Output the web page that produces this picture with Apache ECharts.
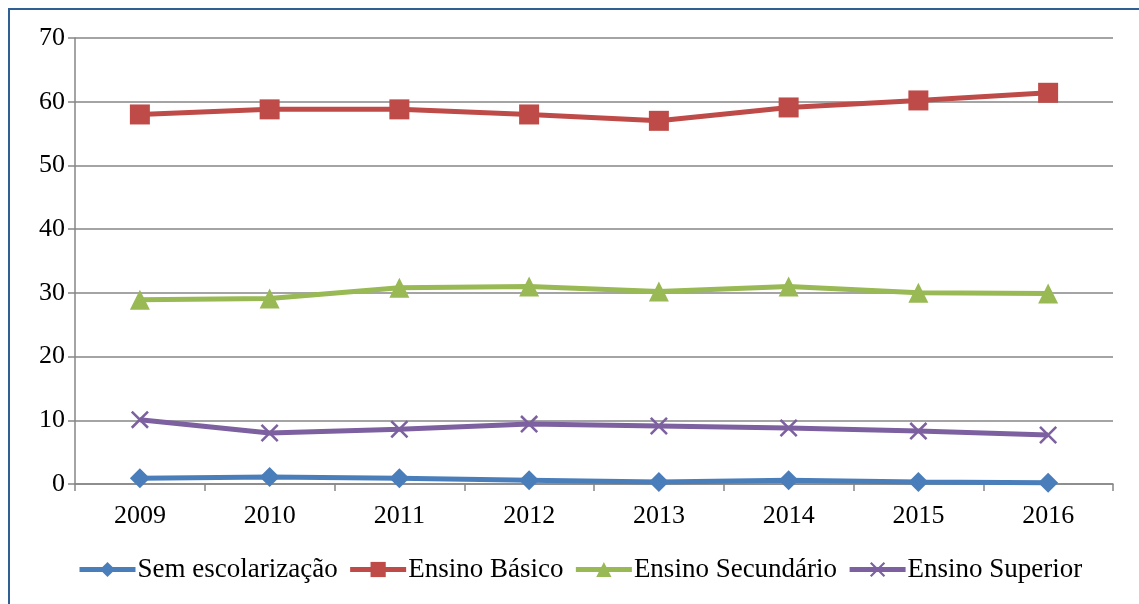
<!doctype html>
<html lang="pt">
<head>
    <meta charset="UTF-8">
    <title>Escolarização 2009-2016</title>
    <script src="https://cdn.jsdelivr.net/npm/echarts@6/dist/echarts.min.js"></script>
    <style>
        html, body { margin: 0; padding: 0; background: #fff; }
        #chart { width: 1139px; height: 604px; }
    </style>
</head>
<body>
<div id="chart"></div>
<script>
    // dados
    const anos = ['2009', '2010', '2011', '2012', '2013', '2014', '2015', '2016']
    const semEscolarizacao = [0.9, 1.1, 0.9, 0.6, 0.3, 0.6, 0.3, 0.2]
    const ensinoBasico = [58.0, 58.8, 58.8, 58.0, 57.0, 59.1, 60.2, 61.4]
    const ensinoSecundario = [28.9, 29.1, 30.8, 31.0, 30.2, 31.0, 30.0, 29.9]
    const ensinoSuperior = [10.1, 8.0, 8.6, 9.4, 9.1, 8.8, 8.3, 7.7]

    const fonte = '"Liberation Serif", "Times New Roman", serif'
    const cruz = 'path://M0,1L1,0L10,9L9,10Z M9,0L10,1L1,10L0,9Z'

    const chart = echarts.init(document.getElementById('chart'))

    function serie(nome, dados, cor, simbolo, tamanho) {
        return {
            name: nome,
            type: 'line',
            data: dados,
            symbol: simbolo,
            symbolSize: tamanho,
            showAllSymbol: true,
            itemStyle: {color: cor},
            lineStyle: {color: cor, width: 5},
            emphasis: {disabled: true},
            animation: false
        }
    }

    const option = {
        textStyle: {fontFamily: fonte},
        graphic: [{
            type: 'rect',
            shape: {x: 9, y: 9, width: 1140, height: 600},
            style: {fill: 'none', stroke: '#2f5f93', lineWidth: 2},
            silent: true
        }],
        grid: {left: 75, right: 26, top: 38, bottom: 120},
        legend: {
            bottom: 16,
            left: 72,
            itemWidth: 56,
            itemHeight: 19,
            itemGap: 10,
            lineStyle: {width: 5},
            textStyle: {fontFamily: fonte, fontSize: 27, color: '#000', padding: [0, 0, 0, -3]},
            data: ['Sem escolarização', 'Ensino Básico', 'Ensino Secundário', 'Ensino Superior']
        },
        xAxis: {
            type: 'category',
            data: anos,
            axisLine: {lineStyle: {color: '#868686', width: 1.5}},
            axisTick: {show: true, length: 7, lineStyle: {color: '#868686', width: 1.5}},
            axisLabel: {color: '#000', fontSize: 26, fontFamily: fonte, margin: 19}
        },
        yAxis: {
            type: 'value',
            min: 0,
            max: 70,
            interval: 10,
            axisLine: {show: true, lineStyle: {color: '#868686', width: 1.5}},
            axisTick: {show: true, length: 7, lineStyle: {color: '#868686', width: 1.5}},
            splitLine: {lineStyle: {color: '#868686', width: 1.5}},
            axisLabel: {color: '#000', fontSize: 26, fontFamily: fonte, margin: 10}
        },
        series: [
            serie('Sem escolarização', semEscolarizacao, '#4a7ebb', 'diamond', 20),
            serie('Ensino Básico', ensinoBasico, '#be4b48', 'rect', 20),
            serie('Ensino Secundário', ensinoSecundario, '#98b954', 'triangle', 20),
            serie('Ensino Superior', ensinoSuperior, '#7d60a0', cruz, 18)
        ]
    }
    chart.setOption(option)
</script>
</body>
</html>
